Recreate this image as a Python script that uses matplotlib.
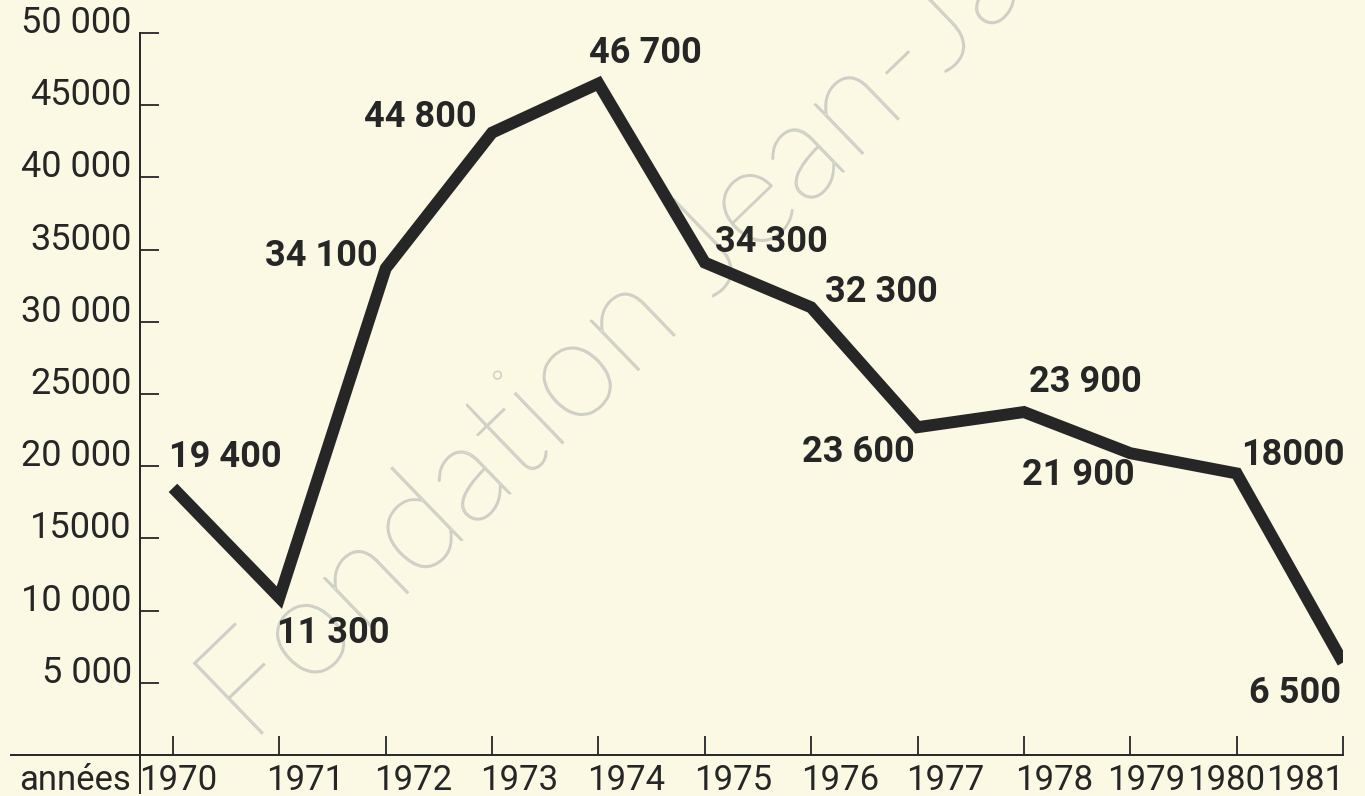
import numpy as np
import matplotlib.pyplot as plt
from matplotlib.textpath import TextPath
from matplotlib.patches import PathPatch
from matplotlib.font_manager import FontProperties
from matplotlib.transforms import Affine2D, IdentityTransform

# données
annees = [1970, 1971, 1972, 1973, 1974, 1975, 1976, 1977, 1978, 1979, 1980, 1981]
valeurs = [18500, 10900, 33700, 43100, 46500, 34100, 31000, 22700, 23750, 20900, 19500, 6400]
etiquettes = ['19 400', '11 300', '34 100', '44 800', '46 700', '34 300',
              '32 300', '23 600', '23 900', '21 900', '18000', '6 500']
yticks = [5000, 10000, 15000, 20000, 25000, 30000, 35000, 40000, 45000, 50000]
ytick_labels = ['5 000', '10 000', '15000', '20 000', '25000', '30 000',
                '35000', '40 000', '45000', '50 000']

# décalages (pixels) des étiquettes par rapport au point / au repère
offsets = [(52, 31), (54, -35), (-64, 12), (-72, 16), (47, 31), (67, 21),
           (70, 15), (-59, -25), (61, 30), (-52, -22), (56, 18), (-48, -30)]
year_dx = [5, 26, 27, 27, 28, 28, 29, 28, 30, 16, -11, -38]

bg = '#fbf9e3'
ink = '#262626'
font = 'Roboto'

fig = plt.figure(figsize=(13.65, 7.96), dpi=100, facecolor=bg)
W, H = 1365, 796
ax = fig.add_axes([140 / W, 1 - 755 / H, (1343 - 140) / W, (755 - 33) / H])
ax.set_facecolor(bg)

ax.set_xlim(1969.69, 1981.0)
ax.set_ylim(0, 50000)

# filigrane (contour seul)
fp = FontProperties(family='Lato', weight='light')
tp = TextPath((0, 0), 'Fondation Jean-Jaurès', size=140, prop=fp)
tr = Affine2D().rotate_deg(44).translate(250, H - 745)
wm = PathPatch(tr.transform_path(tp), facecolor='none', edgecolor='#cfcfc6',
               lw=1.1, transform=IdentityTransform(), zorder=1, clip_on=False)
ax.add_artist(wm)

ax.plot(annees, valeurs, color=ink, lw=8.6, solid_joinstyle='miter',
        solid_capstyle='butt', zorder=3)

for x, y, t, (dx, dy) in zip(annees, valeurs, etiquettes, offsets):
    ax.annotate(t, (x, y), xytext=(dx, dy), textcoords='offset pixels',
                ha='center', va='center', fontsize=26, fontweight='bold',
                family=font, color=ink, zorder=4)

for s in ax.spines.values():
    s.set_visible(False)

# axes prolongés comme sur l'original
ax.plot([-0.107, 1.0], [0, 0], transform=ax.transAxes, color=ink, lw=1.4,
        clip_on=False, zorder=5)
ax.plot([0, 0], [-0.053, 1.0], transform=ax.transAxes, color=ink, lw=1.4,
        clip_on=False, zorder=5)

ax.set_yticks(yticks)
ax.set_yticklabels(ytick_labels)
ax.set_xticks(annees)
ax.set_xticklabels([])
ax.tick_params(axis='y', direction='in', length=14, width=1.3, color=ink,
               pad=6, labelsize=26, labelcolor=ink)
ax.tick_params(axis='x', direction='in', length=14, width=1.3, color=ink)
for lbl in ax.get_yticklabels():
    lbl.set_family(font)
    lbl.set_va('baseline')

for a, dx in zip(annees, year_dx):
    ax.annotate(str(a), (a, 0), xytext=(dx, -35), textcoords='offset pixels',
                ha='center', va='baseline', fontsize=25, family=font,
                color=ink, annotation_clip=False)

ax.annotate('années', (0, 0), xycoords='axes fraction', xytext=(-9, -35),
            textcoords='offset pixels', ha='right', va='baseline',
            fontsize=25, family=font, color=ink, annotation_clip=False)

fig.savefig('out.png', dpi=100, facecolor=bg)
